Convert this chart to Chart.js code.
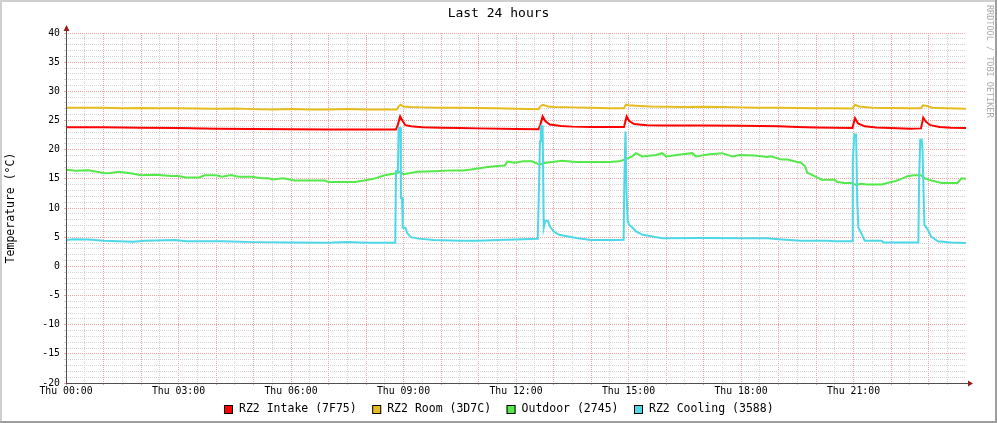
<!DOCTYPE html>
<html><head><meta charset="utf-8">
<script src="https://cdn.jsdelivr.net/npm/chart.js@4.4.0/dist/chart.umd.min.js"></script>
<style>html,body{margin:0;padding:0;background:#fff;overflow:hidden}canvas{display:block}</style>
</head><body>
<canvas id="c" width="997" height="423"></canvas>
<script>
// ---- chart text ----
const chartTitle = 'Last 24 hours';
const yAxisTitle = 'Temperature (°C)';
const watermark = 'RRDTOOL / TOBI OETIKER';
const seriesNames = ['RZ2 Intake (7F75)', 'RZ2 Room (3D7C)', 'Outdoor (2745)', 'RZ2 Cooling (3588)'];
const seriesColors = ['#FF0000', '#E6BC1E', '#55E84A', '#4DD8E8'];

// ---- axes ----
const xTickHours = [0, 3, 6, 9, 12, 15, 18, 21];
const xTickLabels = ['Thu 00:00', 'Thu 03:00', 'Thu 06:00', 'Thu 09:00', 'Thu 12:00', 'Thu 15:00', 'Thu 18:00', 'Thu 21:00'];
const yTickValues = [-20, -15, -10, -5, 0, 5, 10, 15, 20, 25, 30, 35, 40];

// ---- series (x = hours since Thu 00:00, y = °C) ----
const intakeT = [0,1,1.5,2,3,4,5,6,7,8,8.8,8.85,8.91,8.97,9.05,9.2,9.5,10,10.5,11,12,12.6,12.65,12.71,12.78,12.9,13.2,13.5,14,14.5,14.88,14.95,15.02,15.15,15.5,16,17,18,19,19.5,20,20.5,20.97,21.04,21.12,21.3,21.6,22,22.5,22.8,22.86,22.93,23.05,23.3,23.6,24];
const intakeV = [23.85,23.85,23.8,23.75,23.7,23.6,23.55,23.5,23.45,23.45,23.45,24.3,25.7,25.0,24.2,24.0,23.85,23.75,23.7,23.65,23.55,23.5,24.3,25.7,24.9,24.3,24.05,23.95,23.9,23.9,23.9,25.7,24.9,24.4,24.2,24.15,24.15,24.1,24.0,23.9,23.8,23.75,23.7,25.4,24.5,24.0,23.8,23.7,23.6,23.65,25.5,24.8,24.2,23.9,23.75,23.7];

const roomT = [0,1,1.5,2,2.5,3,3.5,4,4.5,5,5.5,6,6.5,7,7.5,8,8.82,8.88,8.93,9.0,9.2,9.5,10,10.5,11,11.5,12,12.6,12.66,12.72,12.85,13,13.5,14,14.5,14.88,14.93,15.0,15.3,15.6,16,16.5,17,17.5,18,18.5,19,19.5,20,20.5,20.97,21.04,21.15,21.5,22,22.5,22.8,22.85,22.95,23.1,23.5,24];
const roomV = [27.2,27.2,27.1,27.15,27.1,27.1,27.05,27.0,27.05,26.95,26.9,26.95,26.9,26.9,26.95,26.9,26.9,27.5,27.7,27.4,27.3,27.25,27.2,27.2,27.15,27.1,27.0,26.95,27.5,27.7,27.4,27.3,27.25,27.2,27.1,27.1,27.7,27.6,27.5,27.4,27.35,27.3,27.35,27.3,27.25,27.2,27.2,27.15,27.1,27.1,27.05,27.7,27.4,27.2,27.15,27.1,27.1,27.6,27.5,27.2,27.1,27.0];

const outdoorT = [0,0.08,0.25,0.6,1.0,1.15,1.4,1.76,2.0,2.4,2.8,3.0,3.2,3.55,3.7,4.0,4.16,4.4,4.6,4.96,5.2,5.4,5.5,5.8,6.1,6.9,7.0,7.7,7.95,8.2,8.5,8.8,8.9,9.0,9.37,9.8,10.3,10.6,10.8,11.2,11.5,11.7,11.77,11.95,12.2,12.43,12.62,12.8,13.23,13.6,14.0,14.5,14.75,14.89,15.1,15.2,15.37,15.74,15.9,16.0,16.44,16.7,16.8,17.16,17.5,17.77,17.96,18.36,18.7,18.8,19.08,19.24,19.42,19.6,19.7,19.77,19.96,20.15,20.5,20.57,20.75,20.94,21.07,21.2,21.37,21.75,21.9,22.1,22.28,22.44,22.62,22.8,22.9,23.08,23.35,23.77,23.88,24];
const outdoorV = [16.5,16.5,16.4,16.45,16.0,15.95,16.2,15.9,15.6,15.7,15.5,15.5,15.25,15.25,15.6,15.6,15.35,15.65,15.35,15.35,15.1,15.1,14.9,15.1,14.7,14.7,14.45,14.45,14.7,15.0,15.6,15.95,16.2,15.8,16.2,16.3,16.45,16.45,16.6,17.0,17.2,17.3,17.95,17.75,18.0,18.0,17.45,17.75,18.1,17.9,17.9,17.9,18.0,18.3,18.85,19.4,18.85,19.1,19.4,18.85,19.2,19.4,18.85,19.2,19.4,18.85,19.1,19.0,18.75,18.85,18.3,18.3,18.0,17.75,17.2,16.05,15.45,14.85,14.85,14.45,14.3,14.3,13.95,14.15,14.05,14.05,14.3,14.6,15.0,15.45,15.6,15.6,15.1,14.7,14.3,14.3,15.1,15.0];

const coolingT = [0,0.2,0.6,1.0,1.8,2.1,2.9,3.2,4.2,5.0,6.0,7.0,7.5,8.0,8.78,8.8,8.85,8.87,8.92,8.93,8.96,8.98,9.05,9.1,9.2,9.4,9.8,10.5,11.0,11.5,12.0,12.58,12.6,12.64,12.66,12.71,12.74,12.78,12.85,12.9,13.0,13.15,13.6,14.0,14.7,14.87,14.89,14.92,14.95,14.98,15.02,15.11,15.2,15.38,15.64,15.9,17.0,18.0,18.7,19.0,19.6,20.3,20.5,20.96,20.98,21.02,21.07,21.1,21.13,21.18,21.25,21.3,21.75,21.8,22.6,22.73,22.75,22.78,22.82,22.84,22.89,22.98,23.07,23.25,23.6,24];
const coolingV = [4.5,4.65,4.6,4.4,4.2,4.4,4.5,4.3,4.3,4.15,4.1,4.05,4.15,4.05,4.05,16.3,16.3,23.7,23.7,11.7,11.7,6.6,6.6,5.7,5.0,4.75,4.5,4.4,4.4,4.5,4.6,4.73,10.0,21.4,24.0,24.0,6.6,7.8,7.8,6.9,6.0,5.4,4.85,4.5,4.5,4.55,15.1,23.1,12.0,7.7,7.1,6.6,6.0,5.4,5.1,4.8,4.85,4.8,4.8,4.65,4.4,4.4,4.3,4.3,18.0,22.6,22.6,11.1,6.6,6.0,5.1,4.4,4.4,4.1,4.1,4.1,15.1,21.7,21.7,20.0,7.1,6.3,5.1,4.3,4.1,4.0];

// ---- build ----
const seriesT = [intakeT, roomT, outdoorT, coolingT];
const seriesV = [intakeV, roomV, outdoorV, coolingV];
const MONO = 'DejaVu Sans Mono';
const MAJOR = '#eca4a4';
const MINOR = '#d4d4d4';

const datasets = seriesNames.map((name, i) => ({
  label: name,
  data: seriesT[i].map((t, k) => ({x: t, y: seriesV[i][k]})),
  borderColor: seriesColors[i],
  backgroundColor: seriesColors[i],
  borderWidth: 2,
  pointRadius: 0,
  tension: 0,
  fill: false,
  order: 4 - i
}));

const halfHours = [];
for (let h = 0; h <= 24; h += 0.5) halfHours.push(h);
const yAll = [];
for (let v = -20; v <= 40; v++) yAll.push(v);

const decor = {
  id: 'decor',
  beforeDraw(chart) {
    const c = chart.ctx;
    c.save();
    c.fillStyle = '#ffffff';
    c.fillRect(0, 0, chart.width, chart.height);
    c.restore();
  },
  afterDraw(chart) {
    const c = chart.ctx;
    const a = chart.chartArea;
    const W = chart.width, H = chart.height;
    c.save();
    // axis lines
    c.strokeStyle = '#505050';
    c.lineWidth = 1;
    c.beginPath();
    c.moveTo(a.left + 0.5, a.bottom + 0.5);
    c.lineTo(a.left + 0.5, a.top - 5);
    c.moveTo(a.left, a.bottom + 0.5);
    c.lineTo(a.right + 2, a.bottom + 0.5);
    c.stroke();
    // arrows
    c.fillStyle = '#9a1c1c';
    c.beginPath();
    c.moveTo(a.left + 0.5, a.top - 8);
    c.lineTo(a.left - 2.5, a.top - 2);
    c.lineTo(a.left + 3.5, a.top - 2);
    c.closePath();
    c.fill();
    c.beginPath();
    c.moveTo(a.right + 7, a.bottom + 0.5);
    c.lineTo(a.right + 2, a.bottom - 2.5);
    c.lineTo(a.right + 2, a.bottom + 3.5);
    c.closePath();
    c.fill();
    // title
    c.fillStyle = '#000';
    c.font = '13px "' + MONO + '"';
    c.textAlign = 'center';
    c.textBaseline = 'middle';
    c.fillText(chartTitle, W / 2, 13.5);
    // y axis title
    c.save();
    c.translate(11, (a.top + a.bottom) / 2);
    c.rotate(-Math.PI / 2);
    c.font = '11.5px "' + MONO + '"';
    c.fillText(yAxisTitle, 0, 0);
    c.restore();
    // watermark
    c.save();
    c.translate(989.5, 5);
    c.rotate(Math.PI / 2);
    c.font = '8.5px "' + MONO + '"';
    c.fillStyle = '#aaaaaa';
    c.textAlign = 'left';
    c.fillText(watermark, 0, 0);
    c.restore();
    // legend
    c.font = '11.5px "' + MONO + '"';
    c.textAlign = 'left';
    const box = 9, gapBox = 6, gapItem = 15.5;
    const widths = chart.data.datasets.map(d => c.measureText(d.label).width);
    let total = 0;
    widths.forEach((w, i) => { total += box + gapBox + w + (i < widths.length - 1 ? gapItem : 0); });
    let x = Math.round(W / 2 - total / 2);
    const ly = 409.5;
    chart.data.datasets.forEach((d, i) => {
      c.fillStyle = d.borderColor;
      c.fillRect(x, 405, box, box);
      c.strokeStyle = '#000';
      c.lineWidth = 1;
      c.strokeRect(x + 0.5, 405.5, box - 1, box - 1);
      c.fillStyle = '#000';
      c.fillText(d.label, x + box + gapBox, ly);
      x += box + gapBox + widths[i] + gapItem;
    });
    // frame
    c.fillStyle = '#cfcfcf';
    c.fillRect(0, 0, W, 2);
    c.fillRect(0, 0, 2, H);
    c.fillStyle = '#9e9e9e';
    c.fillRect(0, H - 2, W, 2);
    c.fillRect(W - 2, 0, 2, H);
    c.restore();
  }
};

new Chart(document.getElementById('c'), {
  type: 'line',
  data: { datasets },
  options: {
    responsive: false,
    devicePixelRatio: 1,
    animation: false,
    events: [],
    layout: { padding: { top: 33, right: 31, bottom: 0, left: 0 } },
    plugins: { legend: { display: false }, tooltip: { enabled: false }, title: { display: false } },
    scales: {
      x: {
        type: 'linear', min: 0, max: 24,
        afterBuildTicks: s => { s.ticks = halfHours.map(v => ({ value: v })); },
        afterFit: s => { s.height = 40; },
        ticks: {
          autoSkip: false, maxRotation: 0, minRotation: 0, padding: 1,
          color: '#000', font: { family: MONO, size: 9.8 },
          callback: v => { const k = xTickHours.indexOf(v); return k >= 0 ? xTickLabels[k] : ''; }
        },
        grid: {
          drawTicks: true, tickLength: 2, lineWidth: 1,
          color: ctx => (ctx.tick && ctx.tick.value >= 24) ? 'rgba(0,0,0,0)' : (ctx.tick && ctx.tick.value % 1 === 0 ? MAJOR : MINOR)
        },
        border: { display: false, dash: [1, 1] }
      },
      y: {
        type: 'linear', min: -20, max: 40,
        afterBuildTicks: s => { s.ticks = yAll.map(v => ({ value: v })); },
        afterFit: s => { s.width = 66; },
        ticks: {
          autoSkip: false, padding: 4,
          color: '#000', font: { family: MONO, size: 9.8 },
          callback: v => yTickValues.includes(v) ? String(v) : ''
        },
        grid: {
          drawTicks: true, tickLength: 2, lineWidth: 1,
          color: ctx => (ctx.tick && ctx.tick.value % 5 === 0) ? MAJOR : MINOR
        },
        border: { display: false, dash: [1, 1] }
      }
    }
  },
  plugins: [decor]
});
</script>
</body></html>
